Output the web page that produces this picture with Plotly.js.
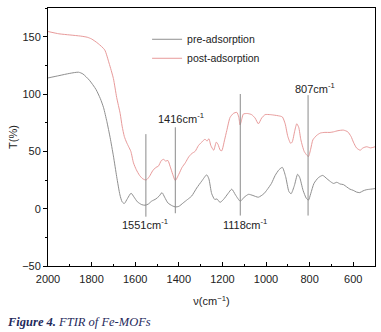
<!DOCTYPE html>
<html>
<head>
<meta charset="utf-8">
<script src="https://cdn.plot.ly/plotly-3.0.1.min.js"></script>
<style>html,body{margin:0;padding:0;background:#fff;}#chart{width:381px;height:332px;}</style>
</head>
<body>
<div id="chart"></div>
<script>
// Pre-adsorption spectrum
const preWavenumber = [2000,1950,1900,1860,1840,1810,1780,1760,1745,1730,1715,1700,1685,1670,1660,1650,1635,1619,1605,1590,1570,1555,1540,1525,1505,1490,1477,1465,1450,1430,1415,1400,1380,1360,1341,1318,1295,1272,1262,1249,1235,1225,1211,1195,1175,1157,1140,1118,1100,1080,1060,1035,1010,995,975,958,940,925,910,895,885,870,855,845,830,815,805,795,780,760,740,720,700,690,675,660,645,630,615,600,585,570,555,540,520,500];
const preT = [114,116,118,119,117.5,112,104,96,88,76,62,46,28,12,6,4.5,9,13.5,10,6,3.5,3,4,6.5,8.5,11,14,10,5,2.5,1.5,2,5,8,11,18,24,29.5,26,13,8,8.5,5.5,8,13,17,12,6.5,10,12.5,11.5,10,13,16.5,22,29,34,36,28,15,13,20,30,27,16,9,7.5,13,22,27,29,26,23,22,23,21.5,21,19,17,16,14.5,14,15.5,16.5,17,17.5];
// Post-adsorption spectrum
const postWavenumber = [2000,1950,1900,1850,1820,1800,1770,1740,1720,1700,1685,1669,1660,1650,1640,1630,1620,1608,1595,1580,1565,1550,1535,1520,1505,1494,1480,1470,1460,1450,1440,1428,1416,1400,1385,1370,1355,1341,1325,1310,1295,1280,1270,1262,1253,1240,1228,1220,1210,1203,1190,1180,1165,1150,1134,1125,1119,1110,1104,1085,1066,1050,1035,1020,1004,980,960,943,925,912,900,887,880,868,859,850,840,825,812,805,795,785,767,750,730,706,690,670,645,625,610,599,585,568,555,538,520,500];
const postT = [154.5,152.5,151.5,150.5,149.5,148,144,138.5,127,113.5,97,83,72,63,58,54,50,40,34,29,26,25,28,33,36,37,42,43,41.5,42,37,30,24.5,30,36,40,45,48,50,55,58,60.5,59,61,55,51,58,56,51,50.5,60,68,79.5,83,84,80,73,79,82.5,83,82,79,74,79,82,82,81.5,81,80,74,63,57,58,68,74,71,60,50,46.5,45.5,52,60,64,66,66.5,66.5,67,68,68.5,67,63,58,53,51,53,54,53,54];
// Marked peaks
const peakPos = [1551,1416,1118,807];
const peakLabels = ["1551cm<sup>-1</sup>","1416cm<sup>-1</sup>","1118cm<sup>-1</sup>","807cm<sup>-1</sup>"];
const markTop = [65,71,100,99];
const markBottom = [-7,-4,-6,-6];
const labelX = [1553,1390,1096,776];
const labelY = [-13.5,79,-13,105];

const seriesNames = ["pre-adsorption","post-adsorption"];

const mx = [], my = [];
peakPos.forEach((p,i)=>{ mx.push(p,p,null); my.push(markBottom[i],markTop[i],null); });

const FONT = "Liberation Sans, Arial, sans-serif";

const traces = [
  {x: preWavenumber, y: preT, type:'scatter', mode:'lines', name: seriesNames[0],
   line:{color:'#8f8f8f', width:1, shape:'spline', smoothing:0.6}},
  {x: postWavenumber, y: postT, type:'scatter', mode:'lines', name: seriesNames[1],
   line:{color:'#e89a9a', width:1, shape:'spline', smoothing:0.6}},
  {x: mx, y: my, type:'scatter', mode:'lines', showlegend:false, hoverinfo:'skip',
   line:{color:'#8a8a8a', width:1}}
];

const annotations = peakPos.map((p,i)=>({
  x: labelX[i], y: labelY[i], xref:'x', yref:'y', text: peakLabels[i], showarrow:false,
  font:{family:FONT, size:11, color:'#222'}, xanchor:'center', yanchor:'middle'
}));
annotations.push({
  xref:'paper', yref:'paper', x:-0.131, y:-0.217, xanchor:'left', yanchor:'middle', showarrow:false,
  text:'<b>Figure 4.</b> FTIR of Fe-MOFs',
  font:{family:'Liberation Serif, Times New Roman, serif', size:12.5, color:'#1f2a5c', style:'italic'}
});

const layout = {
  width:381, height:332,
  margin:{l:48, r:6, t:8, b:66},
  paper_bgcolor:'#fff', plot_bgcolor:'#fff',
  font:{family:FONT, size:11, color:'#222'},
  showlegend:true,
  legend:{x:0.303, y:0.935, xanchor:'left', yanchor:'top', bgcolor:'rgba(0,0,0,0)',
          font:{family:FONT, size:10.5, color:'#222'}, tracegroupgap:0, itemwidth:30},
  xaxis:{range:[2000,500], autorange:false, showgrid:false, zeroline:false,
         showline:true, linecolor:'#000', linewidth:1, mirror:true,
         ticks:'inside', ticklen:4, tickcolor:'#000', dtick:200, tick0:0,
         ticklabelstandoff:3,
         minor:{ticks:'inside', ticklen:2, dtick:100, tickcolor:'#000', showgrid:false},
         tickfont:{family:FONT, size:11, color:'#222'},
         title:{text:'ν(cm<sup>−1</sup>)', font:{family:FONT, size:11, color:'#222'}, standoff:13}},
  yaxis:{range:[-50,175], autorange:false, showgrid:false, zeroline:false,
         showline:true, linecolor:'#000', linewidth:1, mirror:true,
         ticks:'outside', ticklen:4, tickcolor:'#000', dtick:50, tick0:0,
         minor:{ticks:'outside', ticklen:2, dtick:25, tickcolor:'#000', showgrid:false},
         tickfont:{family:FONT, size:11, color:'#222'},
         title:{text:'T(%)', font:{family:FONT, size:11, color:'#222'}, standoff:2}},
  annotations: annotations
};

Plotly.newPlot('chart', traces, layout, {staticPlot:true, displayModeBar:false});
</script>
</body>
</html>
